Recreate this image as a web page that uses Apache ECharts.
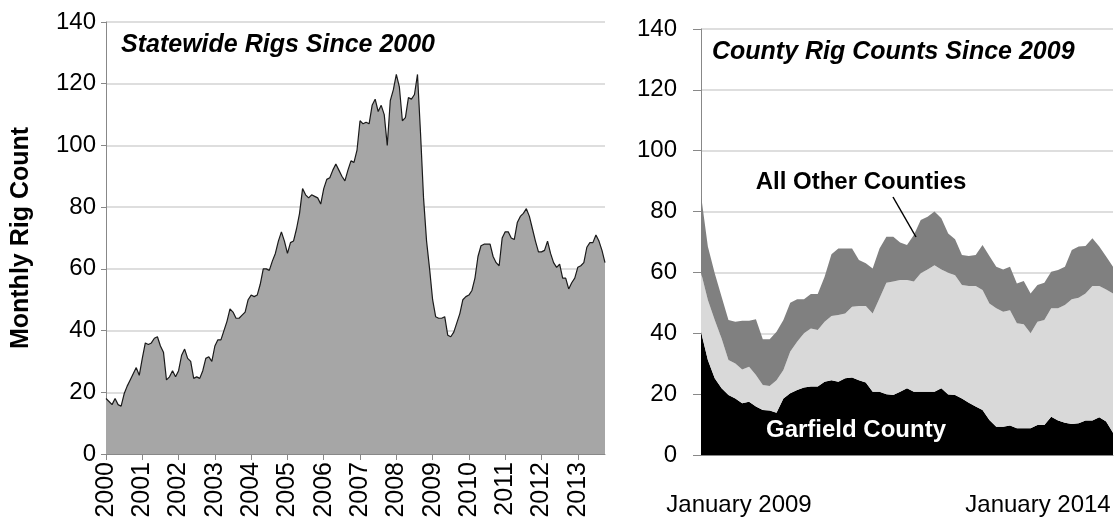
<!DOCTYPE html>
<html>
<head>
<meta charset="utf-8">
<script src="https://cdn.jsdelivr.net/npm/echarts@6/dist/echarts.min.js"></script>
<style>
  html, body { margin: 0; padding: 0; background: #fff; }
  #chart { width: 1118px; height: 523px; }
</style>
</head>
<body>
<div id="chart"></div>
<script>
// 左图：全州月度钻机数，2000年1月 - 2013年10月
const stateRigs = [
  18, 17, 16, 18, 16, 15.5, 19.5, 22, 24, 26, 28, 25.5,
  31, 36, 35.5, 36, 37.5, 38, 35, 33, 24, 25, 27, 25,
  27, 32, 34, 31, 30, 24.5, 25, 24.5, 27, 31, 31.5, 30,
  35, 37, 37, 40, 43, 47, 46, 44, 44, 45, 46, 50,
  51.5, 51, 51.5, 55, 60, 60, 59.5, 62.5, 65, 69, 72, 69,
  65, 68.5, 69, 73, 78, 86, 84, 83, 84, 83.5, 83, 81,
  86, 89, 89.5, 92, 94, 92, 90, 88.5, 92, 95, 94.5, 98.5,
  108, 107, 107.5, 107, 113, 115, 111, 113, 110, 100, 114.5, 118,
  123, 119, 108, 109, 115.5, 115, 116.5, 123, 104, 83, 69, 60,
  50, 44.5, 44, 44, 44.5, 38.5, 38, 39.5, 42.5, 45.5, 50, 51,
  51.5, 53, 57, 64, 67.5, 68, 68, 68, 64, 62, 61, 70,
  72, 72, 70, 69.5, 75, 77, 78, 79.5, 77, 73, 69, 65.5,
  65.5, 66, 69, 65, 62, 60.5, 61.5, 57, 57, 53.5, 55.5, 57,
  60.5, 61, 62, 67, 68.5, 68.5, 71, 69, 66, 62
];
const stateStartYear = 2000;

// 右图：分县钻机数（堆叠），2009年1月 - 2014年1月
const garfield = [
  40.5, 31.2, 25.2, 21.9, 19.7, 18.6, 17, 17.5, 15.9, 14.8, 14.6, 13.9,
  18.6, 20.3, 21.4, 22.2, 22.5, 22.5, 24.1, 24.6, 24.1, 25.2, 25.5, 24.6,
  23.8, 20.8, 20.8, 20, 19.7, 20.8, 21.9, 20.8, 20.8, 20.8, 20.8, 21.9,
  19.9, 19.7, 18.6, 17.2, 15.9, 14.8, 11.5, 9.3, 9.3, 9.7, 8.8, 8.8,
  8.8, 9.9, 9.9, 12.6, 11.3, 10.6, 10.2, 10.4, 11.3, 11.3, 12.4, 11, 7.3
];
const weld = [
  19.5, 19.7, 19.2, 16.4, 11.5, 11.5, 11.1, 11.5, 10.4, 8.2, 8.1, 10.7,
  9.3, 13.7, 15.8, 17.8, 19.1, 18.6, 19.7, 21.1, 21.9, 21.3, 23.2, 24.4,
  25.2, 25.7, 30.7, 36.6, 37.3, 36.7, 35.6, 36.2, 38.9, 40.2, 41.6, 39.1,
  40, 39.4, 37.3, 38.3, 39.6, 39.4, 38.3, 38.9, 37.8, 37.9, 34.5, 34.2,
  31.2, 33.9, 34.5, 35.6, 36.9, 38.7, 41, 41.3, 41.8, 44.2, 43.1, 43.4, 45.8
];
const otherCounties = [
  25.4, 17.6, 15.3, 13.7, 13.2, 13.7, 16, 15.1, 18.3, 15, 15.3, 15.9,
  16.5, 16, 14, 11.2, 11.3, 11.8, 14.8, 20.3, 21.9, 21.4, 19.2, 15.1,
  14, 14.8, 16.4, 15.1, 14.7, 12.3, 11.5, 15.3, 17.5, 17.3, 17.6, 16.8,
  12.9, 11.8, 9.8, 9.9, 10.2, 14.8, 15.6, 13.7, 13.9, 14.3, 13.1, 14.2,
  13.1, 12.1, 12.2, 12, 12.6, 12.6, 16.2, 16.8, 15.6, 15.7, 13, 10.8, 8.8
];
const countyStartYear = 2009;

const yTicks = { min: 0, max: 140, interval: 20 };
const monthNames = ["January", "February", "March", "April", "May", "June",
  "July", "August", "September", "October", "November", "December"];

const stateMonths = stateRigs.map((v, i) => (stateStartYear + Math.floor(i / 12)) + "-" + (i % 12 + 1));
const countyMonths = garfield.map((v, i) => monthNames[i % 12] + " " + (countyStartYear + Math.floor(i / 12)));

const FONT = "Liberation Sans, Arial, sans-serif";
const gridColor = "#d3d3d3";
const axisColor = "#888888";

const chart = echarts.init(document.getElementById("chart"));

const option = {
  backgroundColor: "#ffffff",
  animation: false,
  grid: [
    { left: 106, top: 22, width: 499, bottom: 69 },
    { left: 701, top: 29, width: 412, bottom: 68 }
  ],
  xAxis: [
    {
      gridIndex: 0,
      type: "category",
      data: stateMonths,
      boundaryGap: false,
      axisLine: { lineStyle: { color: axisColor } },
      axisTick: { interval: 11, length: 6, lineStyle: { color: axisColor } },
      axisLabel: {
        interval: 11,
        rotate: 90,
        margin: 8,
        color: "#000",
        fontFamily: FONT,
        fontSize: 25,
        formatter: v => v.split("-")[0]
      }
    },
    {
      gridIndex: 1,
      type: "category",
      data: countyMonths,
      boundaryGap: false,
      axisLine: { lineStyle: { color: axisColor } },
      axisTick: { show: false },
      axisLabel: {
        interval: (i) => i === 0 || i === countyMonths.length - 1,
        margin: 38,
        color: "#000",
        fontFamily: FONT,
        fontSize: 24,
        formatter: (v, i) => (i === 0 ? "{l|" + v + "}" : "{r|" + v + "}"),
        rich: {
          l: { fontFamily: FONT, fontSize: 24, color: "#000", padding: [0, 0, 0, 76] },
          r: { fontFamily: FONT, fontSize: 24, color: "#000", padding: [0, 150, 0, 0] }
        }
      }
    }
  ],
  yAxis: [
    {
      gridIndex: 0,
      type: "value",
      min: yTicks.min, max: yTicks.max, interval: yTicks.interval,
      name: "Monthly Rig Count",
      nameLocation: "middle",
      nameGap: 72,
      nameTextStyle: { fontFamily: FONT, fontSize: 25, fontWeight: "bold", color: "#000" },
      axisLine: { show: true, lineStyle: { color: axisColor } },
      axisTick: { show: true, length: 5, lineStyle: { color: axisColor } },
      axisLabel: { margin: 10, color: "#000", fontFamily: FONT, fontSize: 24 },
      splitLine: { lineStyle: { color: gridColor, width: 1.5 } }
    },
    {
      gridIndex: 1,
      type: "value",
      min: yTicks.min, max: yTicks.max, interval: yTicks.interval,
      axisLine: { show: true, lineStyle: { color: axisColor } },
      axisTick: { show: true, length: 8, lineStyle: { color: axisColor } },
      axisLabel: { margin: 24, color: "#000", fontFamily: FONT, fontSize: 24 },
      splitLine: { lineStyle: { color: gridColor, width: 1.5 } }
    }
  ],
  series: [
    {
      name: "Statewide",
      type: "line",
      xAxisIndex: 0, yAxisIndex: 0,
      data: stateRigs,
      showSymbol: false,
      lineStyle: { color: "#1a1a1a", width: 1.2 },
      areaStyle: { color: "#a6a6a6", opacity: 1 }
    },
    {
      name: "Garfield County",
      type: "line",
      xAxisIndex: 1, yAxisIndex: 1,
      stack: "county",
      data: garfield,
      showSymbol: false,
      lineStyle: { width: 0 },
      areaStyle: { color: "#000000", opacity: 1 }
    },
    {
      name: "Weld County",
      type: "line",
      xAxisIndex: 1, yAxisIndex: 1,
      stack: "county",
      data: weld,
      showSymbol: false,
      lineStyle: { width: 0 },
      areaStyle: { color: "#d9d9d9", opacity: 1 }
    },
    {
      name: "All Other Counties",
      type: "line",
      xAxisIndex: 1, yAxisIndex: 1,
      stack: "county",
      data: otherCounties,
      showSymbol: false,
      lineStyle: { width: 0 },
      areaStyle: { color: "#808080", opacity: 1 }
    }
  ],
  graphic: [
    {
      type: "text", left: 121, top: 33,
      style: { text: "Statewide Rigs Since 2000", font: "italic bold 25px " + FONT, fill: "#000" }
    },
    {
      type: "text", left: 712, top: 40,
      style: { text: "County Rig Counts Since 2009", font: "italic bold 25px " + FONT, fill: "#000" }
    },
    {
      type: "text", x: 861, y: 182,
      style: { text: "All Other Counties", font: "bold 24px " + FONT, fill: "#000", align: "center", verticalAlign: "middle" }
    },
    {
      type: "line", z: 10,
      shape: { x1: 893, y1: 197, x2: 916, y2: 237 },
      style: { stroke: "#000", lineWidth: 1.5 }
    },
    {
      type: "text", x: 952, y: 352,
      style: { text: "Weld County", font: "bold 24px " + FONT, fill: "#000", align: "center", verticalAlign: "middle" }
    },
    {
      type: "text", x: 856, y: 430, z: 10,
      style: { text: "Garfield County", font: "bold 24px " + FONT, fill: "#fff", align: "center", verticalAlign: "middle" }
    }
  ]
};

chart.setOption(option);
</script>
</body>
</html>
